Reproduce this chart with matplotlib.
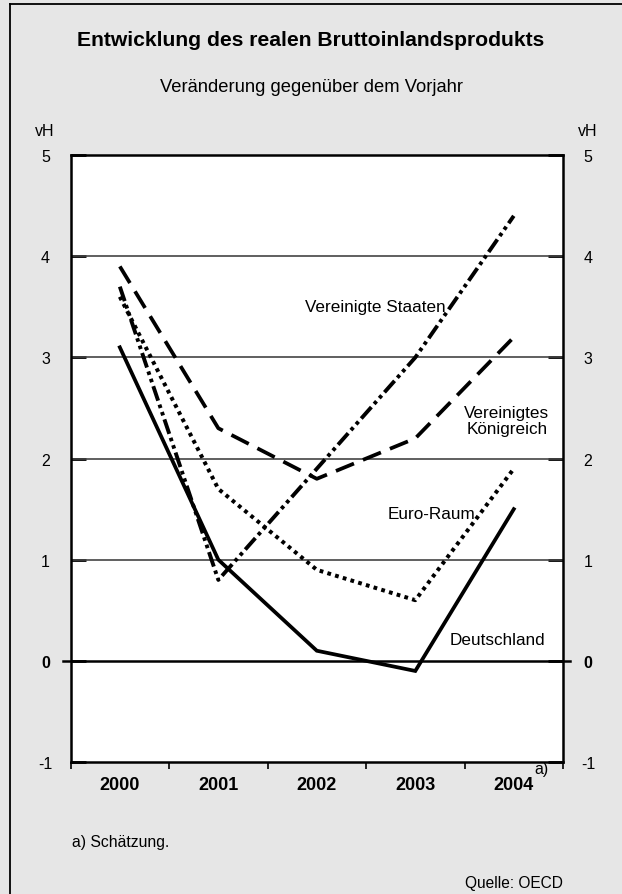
import matplotlib
matplotlib.use("Agg")
import matplotlib.pyplot as plt
from matplotlib.lines import Line2D

plt.rcParams['font.family'] = ['Liberation Sans', 'DejaVu Sans']
plt.rcParams['lines.scale_dashes'] = False

years = ["2000", "2001", "2002", "2003", "2004"]
deutschland = [3.1, 1.0, 0.1, -0.1, 1.5]
euro_raum = [3.6, 1.7, 0.9, 0.6, 1.9]
vereinigtes_koenigreich = [3.9, 2.3, 1.8, 2.2, 3.2]
vereinigte_staaten = [3.7, 0.8, 1.9, 3.0, 4.4]
yticks = [-1, 0, 1, 2, 3, 4, 5]

fig = plt.figure(figsize=(6.22, 8.95), dpi=100, facecolor='#e6e6e6')
ax = fig.add_axes([0.1135, 0.1475, 0.7917, 0.678])
ax.set_facecolor('white')

x = list(range(len(years)))
ax.plot(x, deutschland, color='black', lw=2.7, solid_joinstyle='miter', zorder=5)
ax.plot(x, euro_raum, color='black', lw=2.9, linestyle=(0, (2.7, 3.1)),
        dash_capstyle='butt', zorder=5)
ax.plot(x, vereinigtes_koenigreich, color='black', lw=2.7, linestyle=(0, (14, 7)),
        dash_capstyle='butt', zorder=5)
ax.plot(x, vereinigte_staaten, color='black', lw=2.8,
        linestyle=(0, (11, 3, 2.6, 3, 2.6, 3)), dash_capstyle='butt', zorder=5)

ax.set_xlim(-0.5, 4.5)
ax.set_ylim(-1, 5)

# grid
for v in yticks:
    if v not in (0, -1, 5):
        ax.axhline(v, color='#444444', lw=1.2, zorder=2)
ax.axhline(0, xmin=-0.015, xmax=1.015, color='black', lw=1.8, clip_on=False, zorder=3)

# y axis ticks both sides
ax.set_yticks(yticks)
ax.set_yticklabels([str(v) for v in yticks])
ax.tick_params(axis='y', which='major', direction='in', length=10.8, width=2,
               left=True, right=True, labelleft=True, labelright=True,
               labelsize=11.5, pad=18, colors='black')
for t in ax.yaxis.get_major_ticks():
    for lab in (t.label1, t.label2):
        lab.set_horizontalalignment('center')
        if lab.get_text() == '0':
            lab.set_fontweight('bold')

# x axis
ax.set_xticks(x)
ax.set_xticklabels(years, fontweight='bold', fontsize=13)
ax.set_xticks([i - 0.5 for i in range(len(years) + 1)], minor=True)
ax.tick_params(axis='x', which='major', length=0, pad=10)
ax.tick_params(axis='x', which='minor', direction='out', length=5, width=1.2)
ax.annotate('a)', xy=(4, 0), xycoords=ax.get_xaxis_transform(),
            xytext=(15, -4.5), textcoords='offset points', fontsize=11.5,
            ha='left', va='center')

for s in ax.spines.values():
    s.set_linewidth(1.8)
    s.set_color('black')

# series labels
fs = 12.3
ax.text(2.59, 3.5, "Vereinigte Staaten", ha='center', va='center', fontsize=fs)
ax.text(3.93, 2.38, "Vereinigtes\nKönigreich", ha='center', va='center',
        fontsize=fs, linespacing=1.1)
ax.text(3.16, 1.46, "Euro-Raum", ha='center', va='center', fontsize=fs)
ax.text(3.83, 0.21, "Deutschland", ha='center', va='center', fontsize=fs)

# titles & texts
fig.text(0.5, 0.9553, "Entwicklung des realen Bruttoinlandsprodukts",
         ha='center', va='center', fontsize=15.2, fontweight='bold')
fig.text(0.5, 0.9017, "Veränderung gegenüber dem Vorjahr",
         ha='center', va='center', fontsize=13.2)
fig.text(45 / 622, 1 - 131 / 895, "vH", ha='center', va='center', fontsize=11.5)
fig.text(588 / 622, 1 - 131 / 895, "vH", ha='center', va='center', fontsize=11.5)
fig.text(72 / 622, 1 - 843 / 895, "a) Schätzung.", ha='left', va='center', fontsize=11.3)
fig.text(563 / 622, 1 - 884 / 895, "Quelle: OECD", ha='right', va='center', fontsize=11.2)

# outer frame (left and top)
fig.add_artist(Line2D([10 / 622, 10 / 622], [0, 1 - 5 / 895], transform=fig.transFigure,
                      color='black', lw=1.3))
fig.add_artist(Line2D([10 / 622, 1], [1 - 5 / 895, 1 - 5 / 895], transform=fig.transFigure,
                      color='black', lw=1.3))

fig.savefig("out.png", dpi=100, facecolor=fig.get_facecolor())
